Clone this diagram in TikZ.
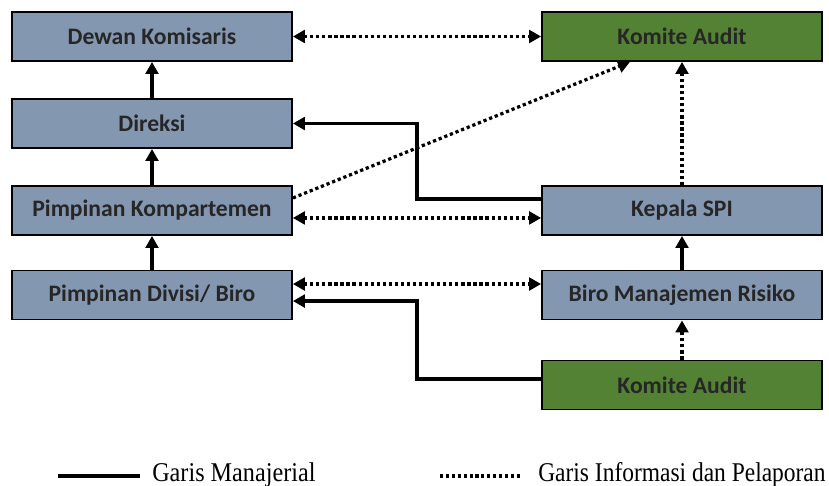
\documentclass[tikz,border=0pt]{standalone}
\usepackage{fontspec}
\usepackage{graphicx}
\setmainfont{Liberation Serif}
\newfontfamily\kotakfont{Carlito}
\usetikzlibrary{arrows.meta}
\definecolor{birukotak}{HTML}{8497B0}
\definecolor{hijaukotak}{HTML}{548235}
\definecolor{tekskotak}{HTML}{262626}
\tikzset{
  kotak/.style={draw=black, line width=1.2pt, minimum width=7cm, minimum height=1.23cm,
    inner sep=0pt, text=tekskotak, font=\kotakfont\bfseries\fontsize{16.8}{19}\selectfont},
  biru/.style={kotak, fill=birukotak},
  hijau/.style={kotak, fill=hijaukotak},
  garis/.style={line width=2.3pt, -{Triangle[length=8.5pt,width=9pt]}},
  titik/.style={garis, dash pattern=on 2.3pt off 2pt},
  duatitik/.style={titik, {Triangle[length=8.5pt,width=9pt]}-{Triangle[length=8.5pt,width=9pt]}},
  legenda/.style={anchor=west, inner sep=0pt, font=\fontsize{17.2}{19}\selectfont}
}
\begin{document}
\begin{tikzpicture}[x=0.025cm, y=-0.025cm]
   \useasboundingbox (0,0) rectangle (829,486);
   \node[biru]  (dk)  at (152,36.5)  {Dewan Komisaris};
   \node[biru]  (dir) at (152,123.5) {Direksi};
   \node[biru]  (pk)  at (152,210.5) {Pimpinan Kompartemen};
   \node[biru]  (pd)  at (152,295)   {Pimpinan Divisi/ Biro};
   \node[hijau] (ka)  at (682,36.5)  {Komite Audit};
   \node[biru]  (spi) at (682,210.5) {Kepala SPI};
   \node[biru]  (bmr) at (682,295)   {Biro Manajemen Risiko};
   \node[hijau] (kab) at (682,385)   {Komite Audit};
   \coordinate (tekuk) at (417,0);
   \coordinate (pdkanan) at ([yshift=-4.3pt]pd.east);

   % garis manajerial
   \draw[garis] (dir) -- (dk);
   \draw[garis] (pk) -- (dir);
   \draw[garis] (pd) -- (pk);
   \draw[garis] (bmr) -- (spi);
   \draw[garis] ([yshift=8.2pt]spi.west) -| (tekuk |- dir.east) -- (dir.east);
   \draw[garis] ([yshift=4.3pt]kab.west) -| (tekuk |- pdkanan) -- (pdkanan);

   % garis informasi dan pelaporan
   \draw[duatitik] (dk) -- (ka);
   \draw[duatitik] ([yshift=-5.3pt]pk.east) -- ([yshift=-5.3pt]spi.west);
   \draw[duatitik] ([yshift=7.8pt]pd.east) -- ([yshift=7.8pt]bmr.west);
   \draw[titik] ([yshift=8.9pt]pk.east) -- ([xshift=-37pt]ka.south);
   \draw[titik] (spi) -- (ka);
   \draw[titik] (kab) -- (bmr);

   % keterangan
   \coordinate (l1a) at (58,476);  \coordinate (l1b) at (140,476);
   \coordinate (l2a) at (440,476); \coordinate (l2b) at (520,476);
   \draw[line width=2.3pt] (l1a) -- (l1b);
   \draw[line width=2.2pt, dash pattern=on 2.2pt off 2pt] (l2a) -- (l2b);
   \node[legenda] (t1) at (152,475) {\scalebox{1}[1.12]{Garis Manajerial}};
   \node[legenda] (t2) at (538,475) {\scalebox{0.97}[1.12]{Garis Informasi dan Pelaporan}};
\end{tikzpicture}
\end{document}
